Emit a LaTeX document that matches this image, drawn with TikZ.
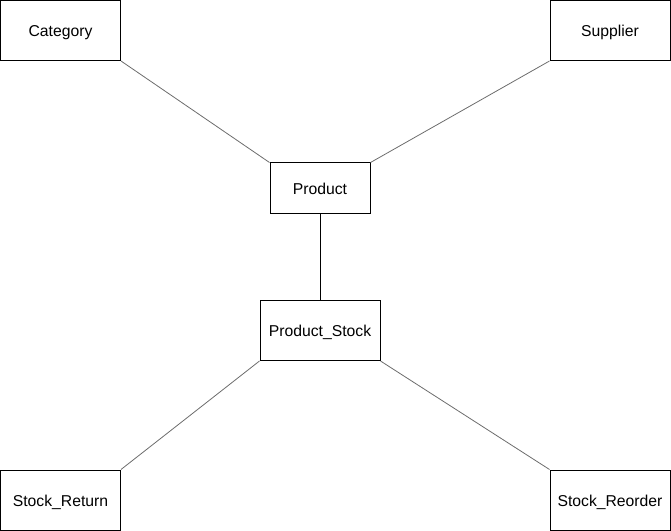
\documentclass[tikz,border=0pt]{standalone}
\usepackage{fontspec}
\setmainfont{Liberation Sans}
\begin{document}
\begin{tikzpicture}[x=0.75pt,y=-0.75pt,
  entity/.style={draw=black,line width=0.75pt,fill=white,minimum width=#1,inner sep=0pt,
    font=\fontsize{11.8}{13}\selectfont,text height=1.2em,text depth=0.28em},
  link/.style={draw=gray!85!black,line width=0.6pt},
  strong/.style={draw=black,line width=0.75pt}]
\useasboundingbox (0,0) rectangle (671,531);
\node[entity=90pt,minimum height=45pt] (cat) at (60.5,30.5) {Category};
\node[entity=90pt,minimum height=45pt] (sup) at (610,30.5) {Supplier};
\node[entity=75pt,minimum height=37.5pt] (prod) at (320,188) {Product};
\node[entity=90pt,minimum height=45pt] (ps) at (320,330.5) {Product\_Stock};
\node[entity=90pt,minimum height=45pt] (ret) at (60.5,500) {Stock\_Return};
\node[entity=90pt,minimum height=45pt] (reo) at (610,500) {Stock\_Reorder};
\draw[link] (cat.south east) -- (prod.north west);
\draw[link] (sup.south west) -- (prod.north east);
\draw[strong] (prod.south) -- (ps.north);
\draw[link] (ps.south west) -- (ret.north east);
\draw[link] (ps.south east) -- (reo.north west);
\end{tikzpicture}
\end{document}
